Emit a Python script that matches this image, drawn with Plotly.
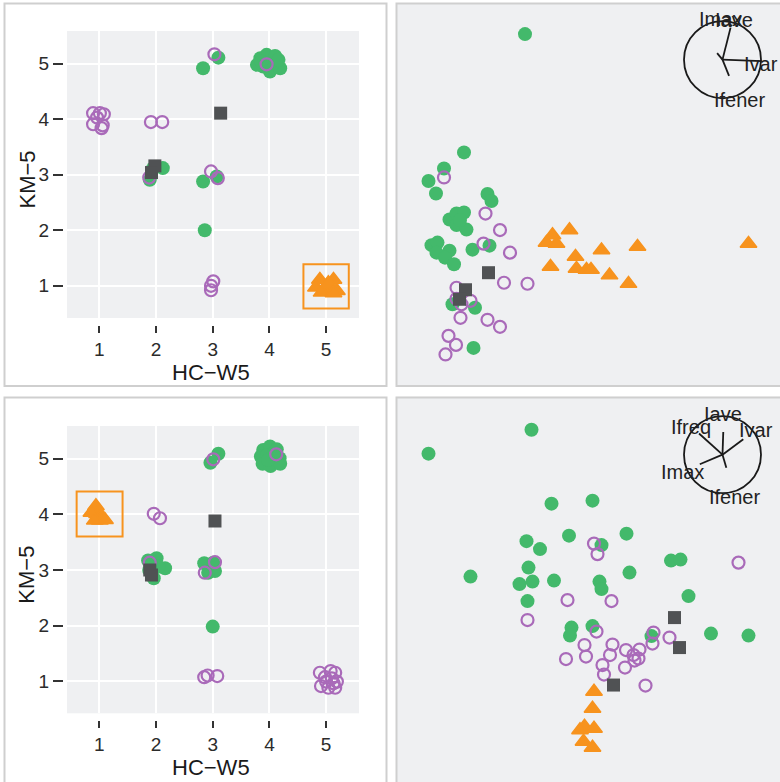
import plotly.graph_objects as go

# ---------------------------------------------------------------------------
# Cluster assignments (jittered) : HC-W5 vs KM-5, upper configuration
# ---------------------------------------------------------------------------
a_green_x = [2.83, 3.10, 3.84, 3.95, 4.10, 3.89, 3.78, 4.01, 4.19, 4.07, 3.86, 4.16,
             1.95, 2.12, 1.89, 2.83, 3.07, 2.86]
a_green_y = [4.92, 5.11, 5.10, 5.16, 5.14, 4.95, 4.98, 4.86, 4.92, 5.01, 5.04, 5.07,
             3.12, 3.12, 2.91, 2.88, 2.97, 2.00]
a_purple_x = [3.03, 3.95, 0.89, 1.01, 1.08, 0.96, 0.89, 1.06, 1.04, 1.91, 2.11, 1.88,
              2.97, 3.09, 3.01, 2.97, 2.97]
a_purple_y = [5.17, 4.99, 4.11, 4.11, 4.09, 4.03, 3.91, 3.89, 3.84, 3.95, 3.95, 2.95,
              3.06, 2.94, 1.08, 1.00, 0.92]
a_gray_x = [3.14, 1.98, 1.92]
a_gray_y = [4.11, 3.16, 3.04]
a_orange_x = [4.89, 5.13, 4.82, 5.07, 4.98, 5.19, 4.92, 5.04, 5.13]
a_orange_y = [1.11, 1.11, 0.97, 0.97, 0.91, 0.91, 0.88, 1.05, 0.87]
a_box = [4.60, 5.40, 0.59, 1.39]

# Cluster assignments, lower configuration
b_green_x = [3.89, 4.01, 4.13, 3.85, 3.96, 4.08, 4.18, 3.88, 4.02, 4.19, 3.98,
             2.96, 3.10, 1.86, 2.01, 2.16, 1.96, 1.88, 2.04, 2.85, 3.04, 3.01, 2.92, 3.00]
b_green_y = [5.16, 5.22, 5.17, 5.04, 5.07, 5.10, 5.01, 4.91, 4.87, 4.91, 4.98,
             4.93, 5.09, 3.17, 3.21, 3.03, 2.85, 3.00, 3.06, 3.12, 2.98, 3.13, 2.95, 1.98]
b_purple_x = [3.01, 4.12, 1.96, 2.07, 1.89, 2.86, 3.04, 2.85, 2.91, 3.08,
              4.89, 5.08, 5.16, 4.98, 5.10, 5.19, 4.91, 5.04, 5.16, 5.00, 5.13]
b_purple_y = [4.99, 5.08, 4.01, 3.93, 3.13, 2.95, 3.14, 1.07, 1.10, 1.09,
              1.15, 1.18, 1.15, 1.07, 1.05, 0.99, 0.91, 0.88, 0.88, 0.99, 0.96]
b_gray_x = [3.04, 1.89, 1.92]
b_gray_y = [3.88, 3.00, 2.91]
b_orange_x = [0.94, 0.96, 1.04, 0.86, 1.01, 1.10, 0.92]
b_orange_y = [4.15, 4.01, 3.97, 4.03, 3.89, 3.90, 3.89]
b_box = [0.60, 1.41, 3.60, 4.41]

# ---------------------------------------------------------------------------
# Projection scores (upper)
# ---------------------------------------------------------------------------
c_green_x = [-1.30, -2.52, -2.92, -3.23, -3.08, -2.05, -1.97, -2.81, -2.67, -2.52, -2.67,
             -2.47, -2.60, -3.17, -3.05, -3.07, -2.81, -2.90, -2.72, -2.35, -2.01, -2.75,
             -2.30, -2.33]
c_green_y = [3.31, 0.95, 0.63, 0.38, 0.13, 0.12, -0.02, -0.39, -0.27, -0.25, -0.50,
             -0.59, -0.40, -0.90, -0.85, -1.05, -1.01, -1.15, -1.28, -0.99, -0.91, -2.08,
             -2.15, -2.95]
c_purple_x = [-2.92, -2.09, -1.80, -2.13, -1.60, -1.72, -1.25, -2.67, -2.67, -2.57, -2.39,
              -2.59, -2.05, -1.80, -2.83, -2.68, -2.89]
c_purple_y = [0.45, -0.27, -0.60, -0.87, -1.05, -1.65, -1.67, -1.75, -1.97, -2.08, -2.01,
              -2.35, -2.39, -2.53, -2.71, -2.89, -3.08]
c_gray_x = [-2.03, -2.49, -2.61]
c_gray_y = [-1.45, -1.79, -1.98]
c_orange_x = [-0.75, -0.87, -0.67, -0.41, -0.29, 0.23, 0.95, 3.17, -0.79, -0.27, -0.07,
              0.02, 0.39, 0.77]
c_orange_y = [-0.70, -0.85, -0.87, -0.60, -1.13, -1.00, -0.93, -0.87, -1.33, -1.37, -1.39,
              -1.39, -1.50, -1.67]

# Projection scores (lower)
d_green_x = [-3.23, -1.17, -0.77, 0.05, -0.42, 0.73, -1.27, -1.00, 0.23, -1.23, -2.39,
             -1.41, -1.15, -0.72, 0.19, 0.23, 0.79, 1.62, 1.81, -1.25, 1.97, -0.37,
             -0.40, 0.05, 1.23, 2.42, 3.17]
d_green_y = [2.73, 3.21, 1.73, 1.79, 1.09, 1.13, 0.98, 0.82, 0.90, 0.45, 0.27,
             0.12, 0.17, 0.19, 0.17, 0.02, 0.35, 0.59, 0.61, -0.22, -0.12, -0.75,
             -0.91, -0.72, -0.92, -0.87, -0.91]
d_purple_x = [0.08, 0.15, 2.97, -0.45, 0.43, -1.25, 0.13, -0.11, -0.48, -0.08, 0.45, 0.40,
              0.25, 0.28, 0.70, 0.72, 0.99, 0.87, 0.97, 0.89, 1.27, 1.25, 1.59, 1.11]
d_purple_y = [0.93, 0.72, 0.55, -0.20, -0.22, -0.60, -0.83, -1.10, -1.38, -1.33, -1.09,
              -1.30, -1.50, -1.69, -1.55, -1.20, -1.19, -1.30, -1.37, -1.41, -0.85, -1.07,
              -0.95, -1.91]
d_gray_x = [1.69, 1.79, 0.47]
d_gray_y = [-0.55, -1.15, -1.90]
d_orange_x = [0.08, 0.05, -0.11, 0.08, -0.20, -0.13, 0.05]
d_orange_y = [-2.03, -2.37, -2.73, -2.77, -2.80, -3.03, -3.15]

# Variable loadings for the biplot glyphs (in units of the glyph radius)
c_vars = ["Iave", "Imax", "Ivar", "Ifener"]
c_load_x = [0.21, -0.14, 1.02, 0.17]
c_load_y = [0.83, 0.17, -0.04, -0.42]
d_vars = ["Iave", "Ifreq", "Ivar", "Imax", "Ifener"]
d_load_x = [0.02, -0.61, 0.54, -0.59, 0.10]
d_load_y = [0.59, 0.55, 0.40, -0.25, -0.34]

# ---------------------------------------------------------------------------
# Styling / geometry
# ---------------------------------------------------------------------------
W, H = 780, 782
GREEN = "#43b96b"
PURPLE = "#a96ab9"
GRAY = "#505254"
ORANGE = "#f7931e"
PANEL_BG = "#eff0f2"
BORDER = "#cfcfcf"
FONT = "Liberation Sans, Arial, Helvetica, sans-serif"


def px_x(p):
    return p / W


def px_y(p):
    return 1 - p / H


glyph_c = {"top": dict(cx=2.65, cy=2.80, r=0.77,
                       label_off={"Iave": (0.30, 1.04), "Imax": (-0.04, 1.06),
                                  "Ivar": (1.00, -0.10), "Ifener": (0.43, -1.04)}),
           "bottom": dict(cx=2.65, cy=2.71, r=0.77,
                          label_off={"Iave": (0.02, 1.07), "Ifreq": (-0.81, 0.72),
                                     "Ivar": (0.88, 0.65), "Imax": (-1.03, -0.45),
                                     "Ifener": (0.32, -1.10)})}

fig = go.Figure()


def add_groups(xa, ya, groups):
    for gx, gy, kind in groups:
        if kind == "green":
            m = dict(symbol="circle", size=14, color=GREEN)
        elif kind == "purple":
            m = dict(symbol="circle-open", size=12, color=PURPLE, line=dict(width=2.2, color=PURPLE))
        elif kind == "gray":
            m = dict(symbol="square", size=13, color=GRAY)
        else:
            m = dict(symbol="triangle-up", size=14.5, color=ORANGE,
                     line=dict(width=1.5, color=ORANGE))
        fig.add_trace(go.Scatter(x=gx, y=gy, mode="markers", marker=m,
                                 xaxis=xa, yaxis=ya, showlegend=False, hoverinfo="skip"))


add_groups("x", "y", [(a_green_x, a_green_y, "green"), (a_purple_x, a_purple_y, "purple"),
                      (a_gray_x, a_gray_y, "gray"), (a_orange_x, a_orange_y, "orange")])
add_groups("x2", "y2", [(b_green_x, b_green_y, "green"), (b_purple_x, b_purple_y, "purple"),
                        (b_gray_x, b_gray_y, "gray"), (b_orange_x, b_orange_y, "orange")])
add_groups("x3", "y3", [(c_green_x, c_green_y, "green"), (c_purple_x, c_purple_y, "purple"),
                        (c_gray_x, c_gray_y, "gray"), (c_orange_x, c_orange_y, "orange")])
add_groups("x4", "y4", [(d_green_x, d_green_y, "green"), (d_purple_x, d_purple_y, "purple"),
                        (d_gray_x, d_gray_y, "gray"), (d_orange_x, d_orange_y, "orange")])

shapes = []
annotations = []

# Biplot glyphs: circle, loading segments and variable names
for xa, ya, g, names, lx, ly in [("x3", "y3", glyph_c["top"], c_vars, c_load_x, c_load_y),
                                 ("x4", "y4", glyph_c["bottom"], d_vars, d_load_x, d_load_y)]:
    cx, cy, r = g["cx"], g["cy"], g["r"]
    shapes.append(dict(type="circle", xref=xa, yref=ya, x0=cx - r, x1=cx + r,
                       y0=cy - r, y1=cy + r, line=dict(color="#1a1a1a", width=1.8),
                       layer="above"))
    sx, sy = [], []
    for vx, vy in zip(lx, ly):
        sx += [cx, cx + r * vx, None]
        sy += [cy, cy + r * vy, None]
    fig.add_trace(go.Scatter(x=sx, y=sy, mode="lines", line=dict(color="#1a1a1a", width=1.8),
                             xaxis=xa, yaxis=ya, showlegend=False, hoverinfo="skip"))
    for n in names:
        ox, oy = g["label_off"][n]
        annotations.append(dict(x=cx + r * ox, y=cy + r * oy, xref=xa, yref=ya, text=n,
                                showarrow=False, font=dict(family=FONT, size=20, color="#222222"),
                                xanchor="center", yanchor="middle"))

# Highlight boxes around the orange cluster
for xa, ya, bx in [("x", "y", a_box), ("x2", "y2", b_box)]:
    shapes.append(dict(type="rect", xref=xa, yref=ya, x0=bx[0], x1=bx[1], y0=bx[2], y1=bx[3],
                       line=dict(color=ORANGE, width=2), layer="above"))

# Panel frames
for x0, x1, y0, y1 in [(4.5, 386.5, 3.5, 386), (396.5, 782, 3.5, 386),
                       (4.5, 386.5, 397.5, 784), (396.5, 782, 397.5, 784)]:
    shapes.append(dict(type="rect", xref="paper", yref="paper", x0=px_x(x0), x1=px_x(x1),
                       y0=px_y(y1), y1=px_y(y0), line=dict(color=BORDER, width=2),
                       fillcolor="rgba(0,0,0,0)", layer="above"))

# Axis titles for the two cluster-comparison panels
for top, bottom_px in [(31, 318), (426, 713.3)]:
    annotations.append(dict(x=px_x(211), y=px_y(bottom_px + 54), xref="paper", yref="paper",
                            text="HC−W5", showarrow=False, xanchor="center", yanchor="middle",
                            font=dict(family=FONT, size=22, color="#1a1a1a")))
    annotations.append(dict(x=px_x(27), y=px_y((top + bottom_px) / 2 + 5), xref="paper",
                            yref="paper", text="KM−5", textangle=-90, showarrow=False,
                            xanchor="center", yanchor="middle",
                            font=dict(family=FONT, size=22, color="#1a1a1a")))

tick_font = dict(family=FONT, size=19, color="#2b2b2b")


def cat_x(top_px, bottom_px):
    return dict(domain=[px_x(67), px_x(359)], range=[0.43, 5.58], tickvals=[1, 2, 3, 4, 5],
                showgrid=True, gridcolor="white", gridwidth=2, zeroline=False, showline=False,
                ticks="outside", ticklen=7, tickwidth=1.5, tickcolor="#333333",
                tickfont=tick_font, anchor="free", position=px_y(bottom_px + 7))


def cat_y(top_px, bottom_px):
    return dict(domain=[px_y(bottom_px), px_y(top_px)], range=[0.42, 5.59],
                tickvals=[1, 2, 3, 4, 5], showgrid=True, gridcolor="white", gridwidth=2,
                zeroline=False, showline=False, ticks="outside", ticklen=10, tickwidth=1.5,
                tickcolor="#333333", tickfont=tick_font, anchor="free", position=px_x(63))


def proj_x():
    return dict(domain=[px_x(396), 1.0], range=[-3.88, 3.80], visible=False)


fig.update_layout(
    width=W, height=H, margin=dict(l=0, r=0, t=0, b=0),
    paper_bgcolor="white", plot_bgcolor=PANEL_BG, showlegend=False,
    xaxis=cat_x(31, 318), yaxis=cat_y(31, 318),
    xaxis2=cat_x(426, 713.3), yaxis2=cat_y(426, 713.3),
    xaxis3=proj_x(), yaxis3=dict(domain=[px_y(387), px_y(3)], range=[-3.73, 3.93], visible=False),
    xaxis4=proj_x(), yaxis4=dict(domain=[0.0, px_y(396.7)], range=[-3.84, 3.87], visible=False),
    shapes=shapes, annotations=annotations,
    font=dict(family=FONT),
)

fig.write_html("out.html")
